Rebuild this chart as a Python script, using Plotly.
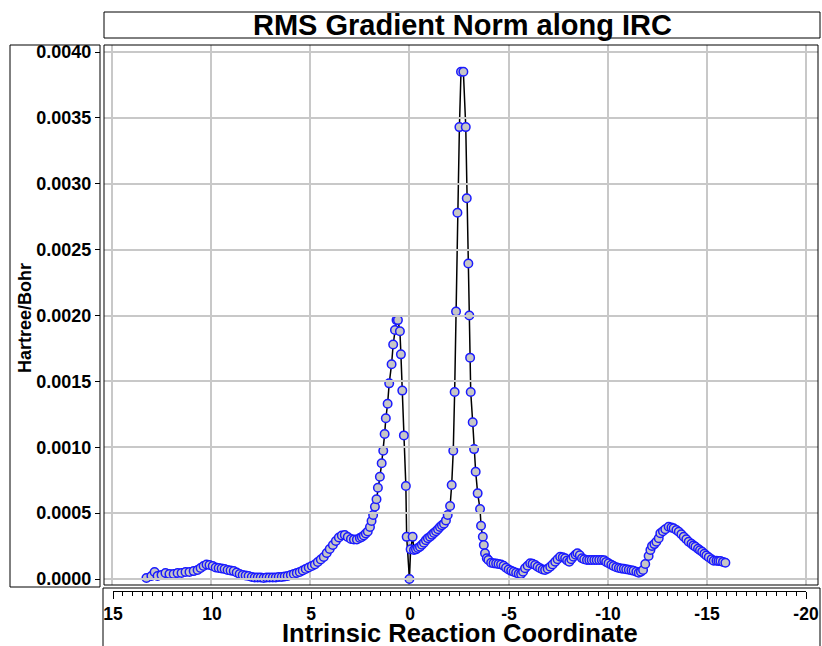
import plotly.graph_objects as go

# Intrinsic reaction coordinate values
irc = [13.26, 13.01, 12.85, 12.70, 12.50, 12.30, 12.10, 11.89, 11.69, 11.49,
       11.29, 11.09, 10.88, 10.68, 10.53, 10.38, 10.23, 10.08, 9.92, 9.77,
       9.62, 9.47, 9.32, 9.17, 9.02, 8.86, 8.71, 8.56, 8.41, 8.26,
       8.11, 7.95, 7.80, 7.65, 7.50, 7.35, 7.20, 7.05, 6.89, 6.74,
       6.59, 6.44, 6.29, 6.14, 5.98, 5.83, 5.68, 5.53, 5.38, 5.23,
       5.08, 4.92, 4.77, 4.62, 4.47, 4.32, 4.17, 4.02, 3.86, 3.71,
       3.56, 3.41, 3.26, 3.11, 2.95, 2.80, 2.65, 2.50, 2.40, 2.30,
       2.20, 2.10, 1.99, 1.91, 1.83, 1.74, 1.66, 1.59, 1.49, 1.40,
       1.32, 1.25, 1.19, 1.10, 1.02, 0.90, 0.82, 0.73, 0.65, 0.58,
       0.48, 0.43, 0.36, 0.28, 0.18, 0.14, 0.00,
       -0.06, -0.16, -0.23, -0.33, -0.43, -0.53, -0.63, -0.73, -0.83, -0.93,
       -1.04, -1.14, -1.24, -1.34, -1.44, -1.54, -1.64, -1.74, -1.84, -1.93,
       -2.05, -2.13, -2.21, -2.28, -2.35, -2.42, -2.52, -2.60, -2.72, -2.84,
       -2.89, -2.97, -3.02, -3.06, -3.09, -3.19, -3.26, -3.34, -3.44, -3.56,
       -3.61, -3.70, -3.75, -3.81, -3.90, -3.98, -4.12, -4.24, -4.37, -4.49,
       -4.62, -4.75, -4.87, -5.00, -5.13, -5.25, -5.38, -5.51, -5.63, -5.73,
       -5.83, -5.96, -6.09, -6.21, -6.34, -6.46, -6.59, -6.72, -6.84, -6.97,
       -7.10, -7.22, -7.35, -7.47, -7.60, -7.73, -7.85, -7.95, -8.06, -8.16,
       -8.27, -8.38, -8.47, -8.59, -8.70, -8.81, -8.95, -9.07, -9.19, -9.32,
       -9.44, -9.57, -9.70, -9.82, -9.92, -10.04, -10.18, -10.29, -10.43, -10.56,
       -10.68, -10.81, -10.93, -11.06, -11.19, -11.30, -11.44, -11.56, -11.67, -11.78,
       -11.89, -12.06, -12.15, -12.23, -12.35, -12.45, -12.57, -12.65, -12.78, -12.90,
       -13.07, -13.21, -13.32, -13.46, -13.58, -13.71, -13.83, -13.96, -14.08, -14.22,
       -14.32, -14.42, -14.55, -14.65, -14.76, -14.87, -14.97, -15.09, -15.23, -15.34,
       -15.48, -15.58, -15.68, -15.81, -15.93]

# RMS gradient norm (Hartree/Bohr)
rms_grad = [0.08e-4, 0.23e-4, 0.53e-4, 0.23e-4, 0.30e-4, 0.45e-4, 0.38e-4, 0.38e-4, 0.45e-4, 0.45e-4,
            0.53e-4, 0.53e-4, 0.60e-4, 0.68e-4, 0.83e-4, 0.99e-4, 1.10e-4, 1.06e-4, 0.99e-4, 0.87e-4,
            0.83e-4, 0.80e-4, 0.76e-4, 0.68e-4, 0.64e-4, 0.60e-4, 0.49e-4, 0.38e-4, 0.30e-4, 0.27e-4,
            0.23e-4, 0.15e-4, 0.11e-4, 0.11e-4, 0.11e-4, 0.08e-4, 0.11e-4, 0.11e-4, 0.11e-4, 0.11e-4,
            0.15e-4, 0.15e-4, 0.19e-4, 0.23e-4, 0.30e-4, 0.38e-4, 0.45e-4, 0.53e-4, 0.64e-4, 0.76e-4,
            0.87e-4, 0.99e-4, 1.10e-4, 1.29e-4, 1.48e-4, 1.67e-4, 1.97e-4, 2.28e-4, 2.58e-4, 2.88e-4,
            3.15e-4, 3.30e-4, 3.34e-4, 3.19e-4, 3.03e-4, 3.00e-4, 3.00e-4, 3.11e-4, 3.19e-4, 3.30e-4,
            3.45e-4, 3.60e-4, 3.95e-4, 4.40e-4, 4.86e-4, 5.49e-4, 6.05e-4, 6.93e-4, 7.76e-4, 8.78e-4,
            9.73e-4, 11.0e-4, 12.2e-4, 13.3e-4, 14.85e-4, 16.3e-4, 17.8e-4, 18.9e-4, 19.65e-4, 19.65e-4,
            18.8e-4, 17.05e-4, 14.3e-4, 10.9e-4, 7.06e-4, 3.20e-4, 0.0,
            2.25e-4, 3.20e-4, 2.20e-4, 2.25e-4, 2.35e-4, 2.45e-4, 2.60e-4, 2.75e-4, 2.95e-4, 3.10e-4,
            3.21e-4, 3.35e-4, 3.50e-4, 3.62e-4, 3.78e-4, 3.95e-4, 4.08e-4, 4.20e-4, 4.45e-4, 4.86e-4,
            5.54e-4, 7.13e-4, 9.73e-4, 14.2e-4, 20.3e-4, 27.8e-4, 34.3e-4, 38.5e-4, 38.5e-4, 34.3e-4,
            28.9e-4, 23.95e-4, 20.0e-4, 16.8e-4, 14.2e-4, 11.9e-4, 9.86e-4, 8.14e-4, 6.5e-4, 5.31e-4,
            4.04e-4, 3.21e-4, 2.58e-4, 1.95e-4, 1.57e-4, 1.44e-4, 1.24e-4, 1.19e-4, 1.17e-4, 1.14e-4,
            1.10e-4, 1.00e-4, 0.85e-4, 0.72e-4, 0.62e-4, 0.55e-4, 0.47e-4, 0.40e-4, 0.38e-4, 0.55e-4,
            0.81e-4, 1.00e-4, 1.19e-4, 1.15e-4, 1.06e-4, 0.93e-4, 0.81e-4, 0.72e-4, 0.68e-4, 0.78e-4,
            0.93e-4, 1.10e-4, 1.31e-4, 1.50e-4, 1.69e-4, 1.65e-4, 1.57e-4, 1.40e-4, 1.31e-4, 1.50e-4,
            1.69e-4, 1.85e-4, 1.95e-4, 1.80e-4, 1.57e-4, 1.50e-4, 1.44e-4, 1.44e-4, 1.44e-4, 1.44e-4,
            1.44e-4, 1.44e-4, 1.44e-4, 1.42e-4, 1.30e-4, 1.19e-4, 1.08e-4, 0.99e-4, 0.90e-4, 0.83e-4,
            0.80e-4, 0.77e-4, 0.74e-4, 0.70e-4, 0.66e-4, 0.63e-4, 0.55e-4, 0.48e-4, 0.55e-4, 0.68e-4,
            1.14e-4, 1.75e-4, 2.20e-4, 2.50e-4, 2.65e-4, 2.83e-4, 3.09e-4, 3.47e-4, 3.62e-4, 3.77e-4,
            3.97e-4, 3.90e-4, 3.85e-4, 3.72e-4, 3.59e-4, 3.40e-4, 3.21e-4, 3.02e-4, 2.83e-4, 2.68e-4,
            2.55e-4, 2.45e-4, 2.30e-4, 2.18e-4, 2.07e-4, 1.92e-4, 1.78e-4, 1.65e-4, 1.50e-4, 1.39e-4,
            1.38e-4, 1.37e-4, 1.37e-4, 1.30e-4, 1.24e-4]

# x tick positions and labels (hyphen minus as in the reference)
x_tick_vals = [15, 10, 5, 0, -5, -10, -15, -20]
x_tick_text = ["15", "10", "5", "0", "-5", "-10", "-15", "-20"]

title_text = "RMS Gradient Norm along IRC"
x_title = "Intrinsic Reaction Coordinate"
y_title = "Hartree/Bohr"

W, H = 822, 646
FONT = "Liberation Sans, Arial, Helvetica, sans-serif"


def px(x):
    return x / W


def py(y):
    return 1 - y / H


fig = go.Figure()
# invisible trace so that the separate bottom axis is drawn
fig.add_trace(go.Scatter(
    x=irc, y=rms_grad, xaxis="x2", yaxis="y", mode="markers",
    marker=dict(opacity=0), showlegend=False, hoverinfo="skip"))
fig.add_trace(go.Scatter(
    x=irc, y=rms_grad, mode="lines+markers",
    line=dict(color="black", width=1.5),
    marker=dict(size=8.5, color="#c6c6c6", line=dict(color="#1a1aff", width=1.5)),
    showlegend=False, hoverinfo="x+y"))

grid = "#c8c8c8"
ytickfont = dict(family=FONT, size=18, color="black", weight="bold")
xtickfont = dict(family=FONT, size=17.5, color="black", weight="bold")

fig.update_layout(
    width=W, height=H, autosize=False,
    margin=dict(l=0, r=0, t=0, b=0, pad=0, autoexpand=False),
    paper_bgcolor="white", plot_bgcolor="rgba(0,0,0,0)",
    xaxis=dict(domain=[px(104), px(818)], range=[15.4, -20.6],
               showticklabels=False, ticks="", showgrid=True, gridcolor=grid,
               gridwidth=2, dtick=5, tick0=0, zeroline=False, showline=False,
               automargin=False),
    xaxis2=dict(domain=[px(113), px(806)], range=[15, -20], anchor="free",
                position=py(591), showgrid=False, zeroline=False,
                showline=True, linecolor="black", linewidth=1,
                ticks="outside", ticklen=7, tickwidth=1, tickcolor="black",
                tickmode="array", tickvals=x_tick_vals, ticktext=x_tick_text,
                tickfont=xtickfont, automargin=False, ticklabelstandoff=0,
                minor=dict(dtick=0.5, tick0=0, ticks="outside", ticklen=4,
                           tickwidth=1, tickcolor="black", showgrid=False)),
    yaxis=dict(domain=[py(585), py(45)], range=[-0.0000455, 0.0040531],
               anchor="free", position=px(100), showgrid=True, gridcolor=grid,
               gridwidth=2, dtick=0.0005, tick0=0, tickformat=".4f",
               zeroline=False, showline=False, ticks="outside", ticklen=5,
               tickwidth=1, tickcolor="black", tickfont=ytickfont,
               ticklabelstandoff=0, automargin=False),
    shapes=[
        dict(type="rect", xref="paper", yref="paper", x0=px(104), x1=px(820),
             y0=py(38), y1=py(12), line=dict(color="black", width=1)),
        dict(type="rect", xref="paper", yref="paper", x0=px(10), x1=px(100),
             y0=py(587), y1=py(45), line=dict(color="black", width=1)),
        dict(type="rect", xref="paper", yref="paper", x0=px(104), x1=px(818),
             y0=py(585), y1=py(45), line=dict(color="black", width=1)),
        dict(type="rect", xref="paper", yref="paper", x0=px(103), x1=px(820),
             y0=py(660), y1=py(588), line=dict(color="black", width=1)),
    ],
    annotations=[
        dict(text=title_text, xref="paper", yref="paper", x=px(462), y=py(25),
             showarrow=False, xanchor="center", yanchor="middle",
             font=dict(family=FONT, size=29, color="black", weight="bold")),
        dict(text=x_title, xref="paper", yref="paper", x=px(460), y=py(633),
             showarrow=False, xanchor="center", yanchor="middle",
             font=dict(family=FONT, size=25.5, color="black", weight="bold")),
        dict(text=y_title, xref="paper", yref="paper", x=px(25), y=py(318),
             showarrow=False, xanchor="center", yanchor="middle", textangle=-90,
             font=dict(family=FONT, size=18, color="black", weight="bold")),
    ],
)

post = (
    "document.documentElement.style.overflow='hidden';"
    "document.body.style.margin='0';document.body.style.overflow='hidden';"
    "var g=document.getElementsByClassName('plotly-graph-div')[0];"
    "g.style.position='fixed';g.style.left='0px';g.style.top='0px';"
)

fig.write_html("out.html", config={"displayModeBar": False}, post_script=post)
